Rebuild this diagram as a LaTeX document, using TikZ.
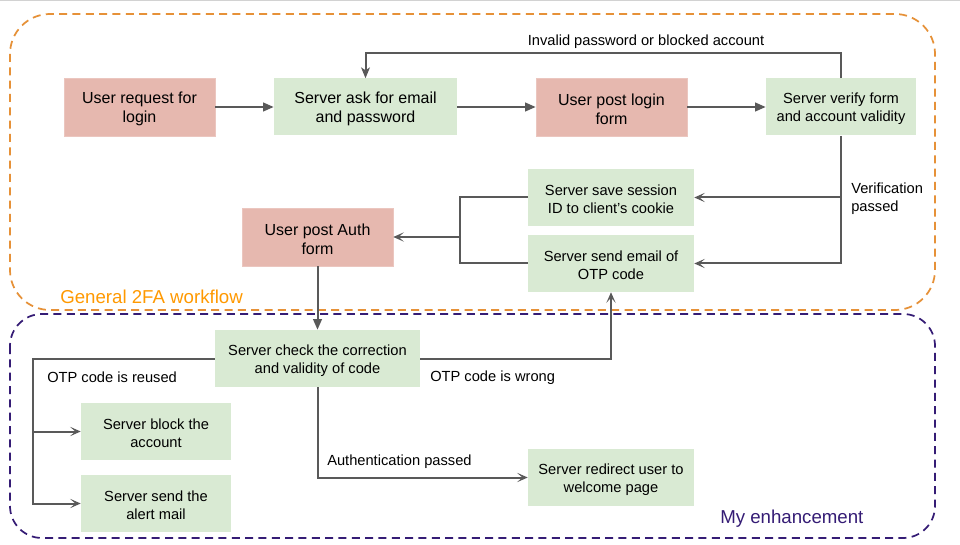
\documentclass[tikz,border=0pt]{standalone}
\usepackage{fontspec}
\setmainfont{Liberation Sans}
\usetikzlibrary{arrows.meta}
\definecolor{pinkbox}{HTML}{E6B8AF}
\definecolor{greenbox}{HTML}{D9EAD3}
\definecolor{linegray}{HTML}{595959}
\definecolor{orangeline}{HTML}{E69138}
\definecolor{orangetext}{HTML}{FF9900}
\definecolor{purpleline}{HTML}{351C75}
\tikzset{
  base/.style={inner sep=0pt},
  userbox/.style={base, fill=pinkbox, draw=pinkbox!80!white, line width=0.4pt},
  srvbox/.style={base, fill=greenbox},
  txtbig/.style={inner sep=0pt, align=center, text=black, font=\fontsize{12pt}{14.4pt}\selectfont, yshift=-1.6pt},
  txtsmall/.style={inner sep=0pt, align=center, text=black, font=\fontsize{11pt}{13.5pt}\selectfont, yshift=-1.6pt},
  conn/.style={draw=linegray, line width=1.5pt},
  tri/.style={conn, -{Triangle[length=8pt,width=6.5pt]}},
  barb/.style={conn, -{Stealth[length=8pt,width=7pt,inset=4pt]}},
  lbl/.style={inner sep=0pt, font=\fontsize{11pt}{13.5pt}\selectfont, text=black},
  grouplbl/.style={inner sep=0pt, anchor=west, font=\fontsize{14pt}{16pt}\selectfont},
}
\begin{document}
\begin{tikzpicture}[x=0.75pt,y=-0.75pt]
\useasboundingbox (0,0) rectangle (960,545);
\fill[white] (0,0) rectangle (960,545);
\draw[gray!35, line width=0.75pt] (0,0.5) -- (960,0.5);

% group frames
\draw[orangeline, line width=1.3pt, dash pattern=on 6pt off 4pt, rounded corners=30pt] (10,14) rectangle (935,310);
\draw[purpleline, line width=1.3pt, dash pattern=on 6pt off 4pt, rounded corners=24pt] (10,314) rectangle (935,538);
\node[grouplbl, text=orangetext] (g1) at (60,297) {General 2FA workflow};
\node[grouplbl, text=purpleline] (g2) at (720,519) {My enhancement};

% boxes
\node[userbox, minimum width=113.25pt, minimum height=43.5pt] (req) at (139.5,107) {};
\node[srvbox, minimum width=137.25pt, minimum height=42.75pt] (ask) at (365.5,107) {};
\node[userbox, minimum width=113.25pt, minimum height=43.5pt] (postlogin) at (611.5,107) {};
\node[srvbox, minimum width=112.5pt, minimum height=42.75pt] (verify) at (841,107) {};
\node[srvbox, minimum width=124.5pt, minimum height=42.75pt] (save) at (611,197.5) {};
\node[srvbox, minimum width=124.5pt, minimum height=42.75pt] (otp) at (611,263.5) {};
\node[userbox, minimum width=113.25pt, minimum height=43.5pt] (auth) at (317.5,237) {};
\node[srvbox, minimum width=153.75pt, minimum height=42.75pt] (check) at (317.5,358.5) {};
\node[srvbox, minimum width=112.5pt, minimum height=42.75pt] (block) at (156,431.5) {};
\node[srvbox, minimum width=112.5pt, minimum height=42.75pt] (alert) at (156,503.5) {};
\node[srvbox, minimum width=124.5pt, minimum height=42.75pt] (redirect) at (611,477.5) {};

% box texts
\node[txtbig] (req-t) at (req.center) {User request for\\login};
\node[txtbig] (ask-t) at (ask.center) {Server ask for email\\and password};
\node[txtbig] (postlogin-t) at (postlogin.center) {User post login\\form};
\node[txtsmall] (verify-t) at (verify.center) {Server verify form\\and account validity};
\node[txtsmall] (save-t) at (save.center) {Server save session\\ID to client's cookie};
\node[txtsmall] (otp-t) at (otp.center) {Server send email of\\OTP code};
\node[txtbig] (auth-t) at (auth.center) {User post Auth\\form};
\node[txtsmall] (check-t) at (check.center) {Server check the correction\\and validity of code};
\node[txtsmall] (block-t) at (block.center) {Server block the\\account};
\node[txtsmall] (alert-t) at (alert.center) {Server send the\\alert mail};
\node[txtsmall] (redirect-t) at (redirect.center) {Server redirect user to\\welcome page};

% connectors
\draw[tri] (req) -- (ask);
\draw[tri] (ask) -- (postlogin);
\draw[tri] (postlogin) -- (verify);
\coordinate (top) at (841,53);
\draw[conn, -{Stealth[length=8pt,width=6.5pt,inset=2pt]}] (verify.north) -- (top) -| (ask.north);
\node[lbl] (linv) at (646,42) {Invalid password or blocked account};

\draw[barb] (verify.south) |- (otp.east);
\draw[barb] (verify.south |- save.east) -- (save.east);
\node[lbl, anchor=west, align=left] (lver) at (851,198.5) {Verification\\passed};

\coordinate (join) at (460,237);
\draw[conn] (save.west) -| (join);
\draw[conn] (otp.west) -| (join);
\draw[barb] (join) -- (auth.east);

\draw[tri] (auth) -- (check);

\draw[barb] (check.east) -| (otp.south);
\node[lbl, anchor=west] (lwrong) at (430,377.5) {OTP code is wrong};

\coordinate (L) at (33,358.5);
\draw[barb] (check.west) -- (L) |- (alert.west);
\draw[barb] (L |- block.west) -- (block.west);
\node[lbl, anchor=west] (lreused) at (47,377.5) {OTP code is reused};

\draw[barb] (check.south) |- (redirect.west);
\node[lbl, anchor=west] (lauth) at (327,461.5) {Authentication passed};
\end{tikzpicture}
\end{document}
